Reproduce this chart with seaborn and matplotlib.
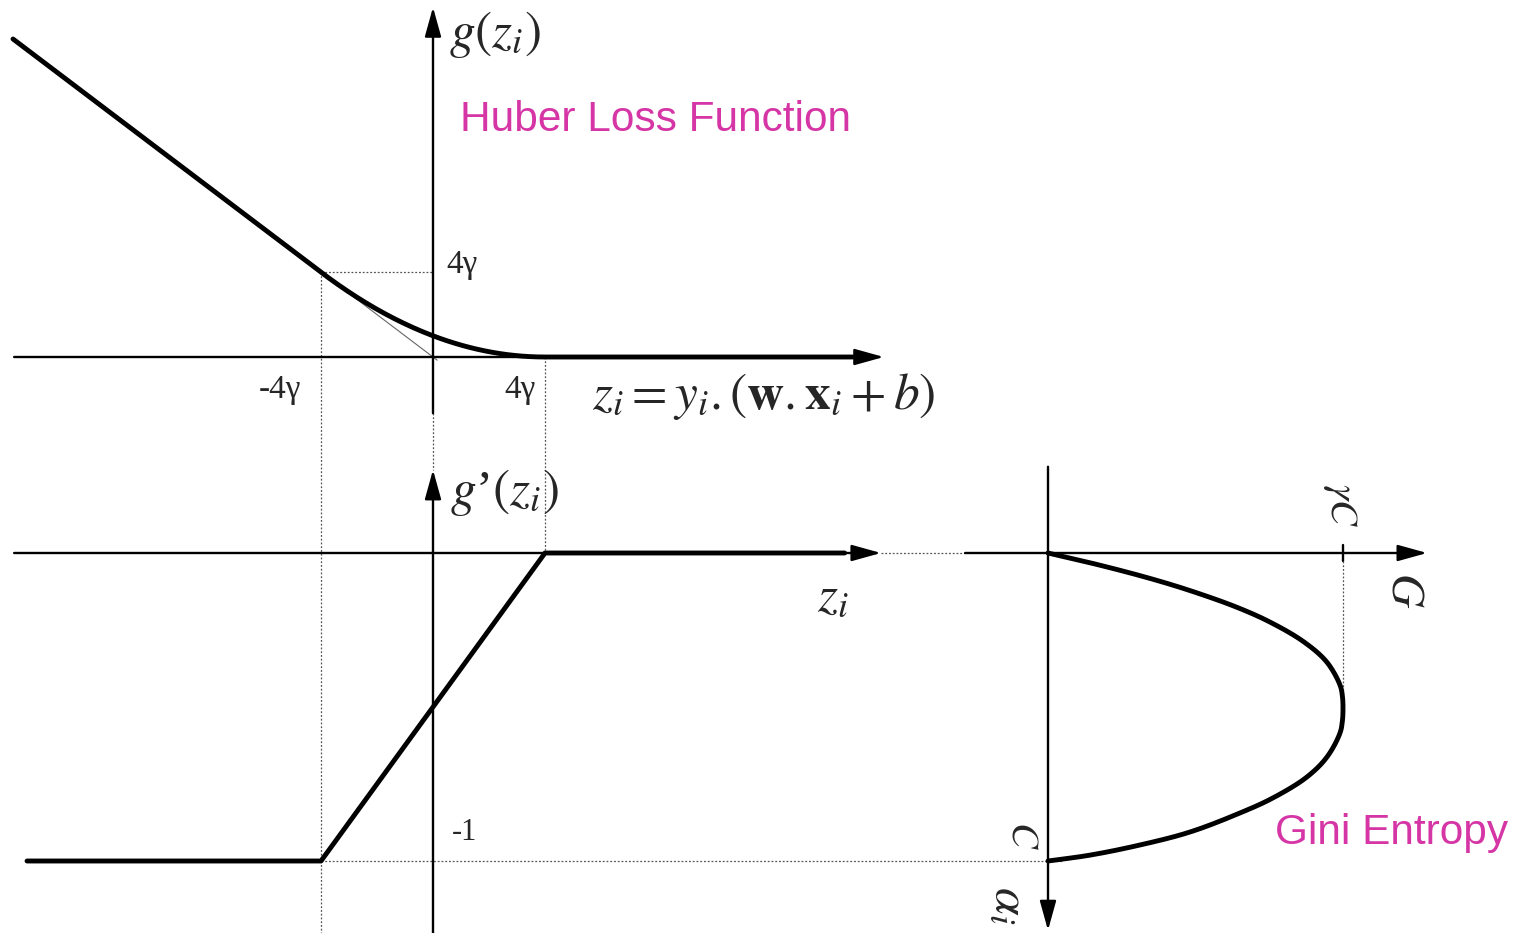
import numpy as np
import pandas as pd
import matplotlib
matplotlib.use("Agg")
import matplotlib.pyplot as plt
import seaborn as sns

sns.set_style("white")
plt.rcParams["font.family"] = ["Liberation Sans", "DejaVu Sans"]
plt.rcParams["mathtext.fontset"] = "stix"

W, H = 1524, 933

# ---- data (z measured in units of gamma) ----
huber_z_knots = [-15.0, -4.0, 4.0, 15.0]      # linear / smooth / flat pieces
huber_g_knots = [15.0, 4.0, 0.0, 0.0]
deriv_z_knots = [-14.5, -4.0, 4.0, 14.7]
deriv_g_knots = [-1.0, -1.0, 0.0, 0.0]

# Gini entropy curve: G / (gamma*C) against alpha_i / C
gini_G = [0.0, 0.144, 0.329, 0.475, 0.637, 0.752, 0.868, 0.945, 0.990, 0.998,
          1.0, 0.998, 0.990, 0.946, 0.878, 0.763, 0.651, 0.481, 0.312, 0.142, 0.0]
gini_alpha = [0.0, 0.032, 0.078, 0.120, 0.175, 0.224, 0.289, 0.354, 0.429, 0.465,
              0.503, 0.545, 0.584, 0.662, 0.727, 0.795, 0.844, 0.906, 0.948, 0.981, 1.0]

# Huber curve: linear branch, quadratic blend between -4γ and 4γ, then zero
z_lin = np.linspace(huber_z_knots[0], huber_z_knots[1], 50)
g_lin = -z_lin
z_quad = np.linspace(huber_z_knots[1], huber_z_knots[2], 120)
g_quad = (z_quad - huber_z_knots[2]) ** 2 / (2 * (huber_z_knots[2] - huber_z_knots[1]))
z_flat = np.array(huber_z_knots[2:])
g_flat = np.array(huber_g_knots[2:])
huber = pd.DataFrame({"z": np.concatenate([z_lin, z_quad, z_flat]),
                      "g": np.concatenate([g_lin, g_quad, g_flat])})

deriv = pd.DataFrame({"z": deriv_z_knots, "g": deriv_g_knots})


def smooth_through(xs, ys, sx=1.0, sy=1.0, n=24):
    """Centripetal Catmull-Rom curve passing through every given point."""
    P = np.column_stack([np.asarray(xs) * sx, np.asarray(ys) * sy])
    P = np.vstack([2 * P[0] - P[1], P, 2 * P[-1] - P[-2]])
    out = [P[1]]
    for i in range(1, len(P) - 2):
        p0, p1, p2, p3 = P[i - 1], P[i], P[i + 1], P[i + 2]
        t0 = 0.0
        t1 = t0 + np.linalg.norm(p1 - p0) ** 0.5
        t2 = t1 + np.linalg.norm(p2 - p1) ** 0.5
        t3 = t2 + np.linalg.norm(p3 - p2) ** 0.5
        t = np.linspace(t1, t2, n)[1:, None]
        a1 = (t1 - t) / (t1 - t0) * p0 + (t - t0) / (t1 - t0) * p1
        a2 = (t2 - t) / (t2 - t1) * p1 + (t - t1) / (t2 - t1) * p2
        a3 = (t3 - t) / (t3 - t2) * p2 + (t - t2) / (t3 - t2) * p3
        b1 = (t2 - t) / (t2 - t0) * a1 + (t - t0) / (t2 - t0) * a2
        b2 = (t3 - t) / (t3 - t1) * a2 + (t - t1) / (t3 - t1) * a3
        c = (t2 - t) / (t2 - t1) * b1 + (t - t1) / (t2 - t1) * b2
        out.extend(c)
    out = np.array(out)
    return out[:, 0] / sx, out[:, 1] / sy


gG, gA = smooth_through(gini_G, gini_alpha, sx=295.0, sy=308.0)
gini = pd.DataFrame({"alpha": gA, "G": gG})

fig = plt.figure(figsize=(W / 100, H / 100), dpi=100)


def panel(x0, xs, y0, ys, down=False):
    """Transparent full-figure axes whose origin sits at pixel (x0, y0)."""
    ax = fig.add_axes([0, 0, 1, 1])
    ax.set_xlim(-x0 / xs, (W - x0) / xs)
    if down:
        ax.set_ylim((H - y0) / ys, -y0 / ys)
    else:
        ax.set_ylim((y0 - H) / ys, y0 / ys)
    ax.axis("off")
    ax.patch.set_alpha(0)
    return ax


def arrow(ax, start, end):
    ax.annotate("", xy=end, xytext=start,
                arrowprops=dict(arrowstyle="-|>,head_length=0.9,head_width=0.25",
                                color="black", lw=1.7, shrinkA=0, shrinkB=0,
                                mutation_scale=20))


def dotted(ax, xs, ys):
    ax.plot(xs, ys, color="#555555", lw=0.9, linestyle=(0, (1.5, 1.5)))


def label(x, y, s, size=28, ha="center", **kw):
    fig.text(x / W, 1 - y / H, s, fontsize=size, ha=ha, va="center", **kw)


PINK = "#D535A5"
SERIF = ["Liberation Serif", "DejaVu Serif"]

# ---- top panel: Huber loss ----
top = panel(433, 28.0, 357, 21.2)
arrow(top, (-14.96, 0), (16.1, 0))
arrow(top, (0, -2.65), (0, 16.5))
dotted(top, [-4, -4], [4, -30])
dotted(top, [-4, 0], [4, 4])
dotted(top, [4, 4], [0, -9.3])
dotted(top, [0, 0], [-2.65, -5.35])
top.plot([-4.0, 0.15], [4.0, -0.15], color="#666666", lw=0.8)
sns.lineplot(data=huber, x="z", y="g", ax=top, color="black", lw=3.5,
             sort=False, estimator=None)

# ---- bottom panel: derivative ----
bot = panel(433, 28.0, 553, 308.0)
arrow(bot, (-14.96, 0), (16.0, 0))
arrow(bot, (0, -1.235), (0, 0.27))
dotted(bot, [-4, 22.5], [-1, -1])
dotted(bot, [16.0, 19.0], [0, 0])
sns.lineplot(data=deriv, x="z", y="g", ax=bot, color="black", lw=3.5,
             sort=False, estimator=None)

# ---- right panel: Gini entropy (rotated axes) ----
gin = panel(1048, 295.0, 553, 308.0, down=True)
arrow(gin, (-0.281, 0), (1.285, 0))
arrow(gin, (0, -0.28), (0, 1.225))
gin.plot([1, 1], [-0.025, 0.025], color="black", lw=1.7)
dotted(gin, [1, 1], [0.025, 0.47])
sns.lineplot(data=gini, x="G", y="alpha", ax=gin, color="black", lw=3.5,
             sort=False, estimator=None)

# ---- labels ----
label(449, 35, r"$g(z_i)$", size=37, ha="left")
label(460, 120, "Huber Loss Function", size=30.5, ha="left", color=PINK)
label(446, 265, "4γ", size=24, ha="left", family=SERIF)
label(280, 390, "-4γ", size=24, family=SERIF)
label(520, 390, "4γ", size=24, family=SERIF)
label(592, 397, r"$z_i = y_i.(\mathbf{w}.\mathbf{x}_i + b)$", size=37, ha="left")
label(450, 492, r"$g$’$(z_i)$", size=37, ha="left", family=SERIF)
label(833, 598, r"$z_i$", size=37)
label(465, 832, "-1", size=22, family=SERIF)
label(1340, 505, r"$\gamma C$", size=28, rotation=-90)
label(1405, 590, r"$G$", size=34, rotation=-90)
label(1023, 835, r"$C$", size=28, rotation=-90)
label(1010, 905, r"$\alpha_i$", size=36, rotation=-90)
label(1275, 833, "Gini Entropy", size=30.5, ha="left", color=PINK)

fig.savefig("out.png", dpi=100, facecolor="white")
